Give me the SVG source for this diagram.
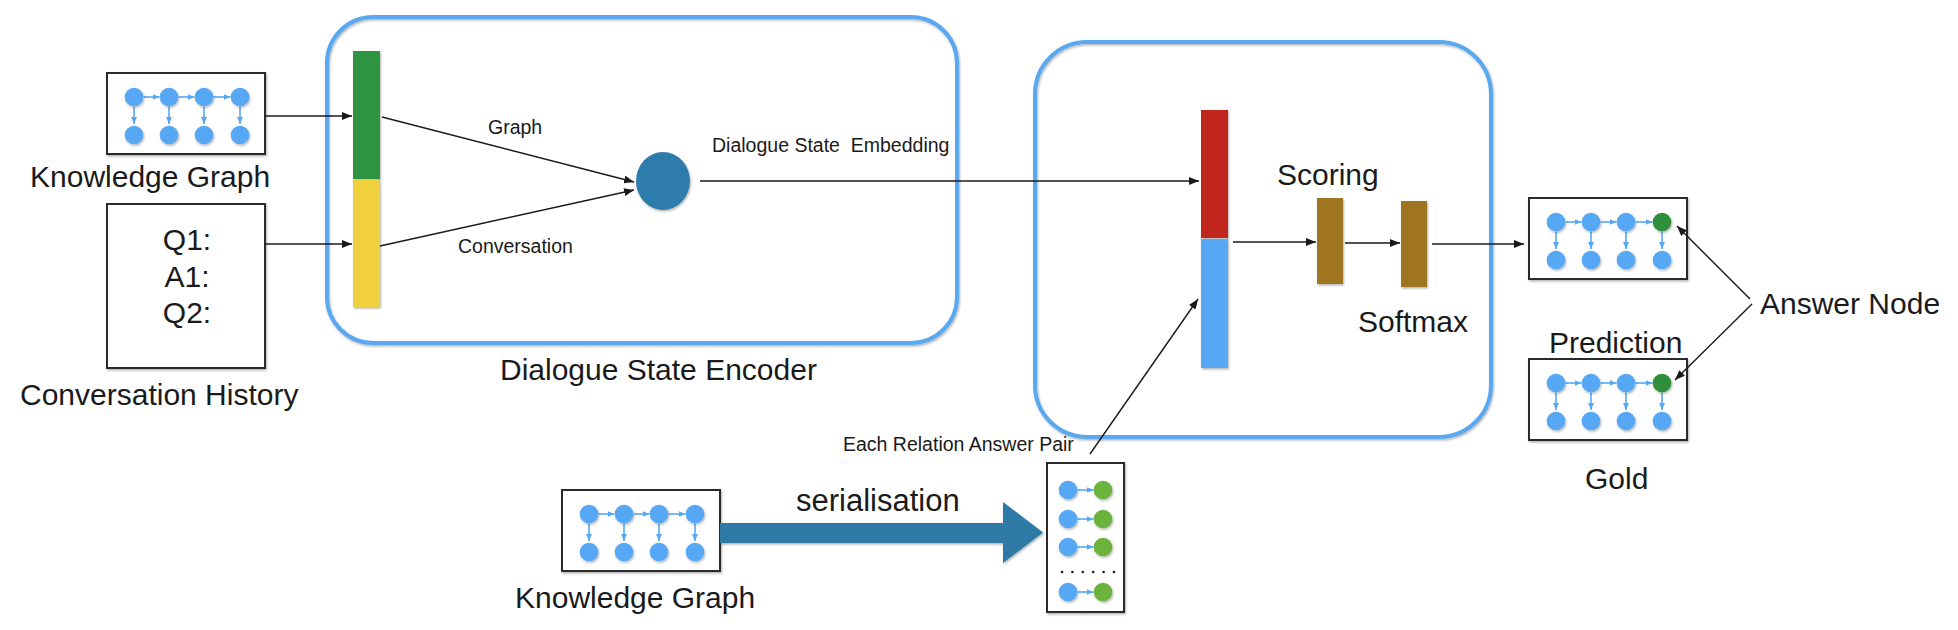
<svg xmlns="http://www.w3.org/2000/svg" xmlns:xlink="http://www.w3.org/1999/xlink" width="1958" height="630" viewBox="0 0 1958 630">
<style>
text{font-family:"Liberation Sans",Arial,sans-serif;fill:#1a1a1a}
.big{font-size:30px}
.small{font-size:19.5px}
.box{fill:#fff;stroke:#2a2a2a;stroke-width:2}
.panel{fill:none;stroke:#5aa8ef;stroke-width:4}
.conn{stroke:#1a1a1a;stroke-width:1.4;fill:none;marker-end:url(#ah)}
.nd{fill:#56a8f5}
.ndg{fill:#2e8f3e}
.ndl{fill:#6cb33e}
.ne{stroke:#56a8f5;stroke-width:1.6;fill:none;marker-end:url(#bh)}
</style>
<defs>
<marker id="ah" markerUnits="userSpaceOnUse" markerWidth="10" markerHeight="8" refX="10" refY="4" orient="auto">
<path d="M0,0 L10,4 L0,8 z" fill="#1a1a1a"/>
</marker>
<marker id="bh" markerUnits="userSpaceOnUse" markerWidth="7" markerHeight="6" refX="7" refY="3" orient="auto">
<path d="M0,0 L7,3 L0,6 z" fill="#56a8f5"/>
</marker>
<filter id="sh" x="-20%" y="-20%" width="140%" height="140%">
<feDropShadow dx="1" dy="1.5" stdDeviation="1" flood-color="#000" flood-opacity="0.3"/>
</filter>
<g id="kgbase">
<rect class="box" x="0" y="0" width="158" height="81" filter="url(#sh)"/>
<path class="ne" d="M36.5,24 H52.5"/>
<path class="ne" d="M71.5,24 H87.5"/>
<path class="ne" d="M106.5,24 H123.5"/>
<path class="ne" d="M27,33.5 V51"/>
<path class="ne" d="M62,33.5 V51"/>
<path class="ne" d="M97,33.5 V51"/>
<path class="ne" d="M133,33.5 V51"/>
<g filter="url(#sh)">
<circle class="nd" cx="27" cy="24" r="9.3"/>
<circle class="nd" cx="62" cy="24" r="9.3"/>
<circle class="nd" cx="97" cy="24" r="9.3"/>
<circle class="nd" cx="27" cy="62" r="9.3"/>
<circle class="nd" cx="62" cy="62" r="9.3"/>
<circle class="nd" cx="97" cy="62" r="9.3"/>
<circle class="nd" cx="133" cy="62" r="9.3"/>
</g>
</g>
</defs>

<g id="kg-input">
<use xlink:href="#kgbase" href="#kgbase" transform="translate(107,73)"/>
<circle class="nd" cx="240" cy="97" r="9.3" filter="url(#sh)"/>
<text class="big" x="30" y="187">Knowledge Graph</text>
</g>

<g id="conversation-history">
<rect class="box" x="107" y="204" width="158" height="164" filter="url(#sh)"/>
<text class="big" x="187" y="250" text-anchor="middle">Q1:</text>
<text class="big" x="187" y="287" text-anchor="middle">A1:</text>
<text class="big" x="187" y="323" text-anchor="middle">Q2:</text>
<text class="big" x="20" y="405">Conversation History</text>
</g>

<g id="dialogue-state-encoder">
<rect class="panel" x="327" y="17" width="630" height="326" rx="46" ry="46" filter="url(#sh)"/>
<rect x="353" y="51" width="27" height="128" fill="#2f9443" filter="url(#sh)"/>
<rect x="353" y="180" width="27" height="127" fill="#f0d03e" filter="url(#sh)"/>
<text class="big" x="500" y="380">Dialogue State Encoder</text>
</g>

<g id="state-embedding">
<ellipse cx="663" cy="181" rx="27" ry="29" fill="#2f7bab" filter="url(#sh)"/>
</g>

<g id="scorer">
<rect class="panel" x="1035" y="42" width="456" height="395" rx="52" ry="52" filter="url(#sh)"/>
<rect x="1201" y="110" width="27" height="128" fill="#c0281a" filter="url(#sh)"/>
<rect x="1201" y="239" width="27" height="129" fill="#57a8f5" filter="url(#sh)"/>
<rect x="1317" y="198" width="26" height="86" fill="#a07424" filter="url(#sh)"/>
<rect x="1401" y="201" width="26" height="86" fill="#a07424" filter="url(#sh)"/>
<text class="big" x="1277" y="185">Scoring</text>
<text class="big" x="1358" y="332">Softmax</text>
</g>

<g id="prediction">
<use xlink:href="#kgbase" href="#kgbase" transform="translate(1529,198)"/>
<circle class="ndg" cx="1662" cy="222" r="9.3" filter="url(#sh)"/>
<text class="big" x="1549" y="353">Prediction</text>
</g>

<g id="gold">
<use xlink:href="#kgbase" href="#kgbase" transform="translate(1529,359)"/>
<circle class="ndg" cx="1662" cy="383" r="9.3" filter="url(#sh)"/>
<text class="big" x="1585" y="489">Gold</text>
</g>

<g id="answer-node">
<text class="big" x="1760" y="314">Answer Node</text>
</g>

<g id="kg-source">
<use xlink:href="#kgbase" href="#kgbase" transform="translate(562,490)"/>
<circle class="nd" cx="695" cy="514" r="9.3" filter="url(#sh)"/>
<text class="big" x="515" y="608">Knowledge Graph</text>
</g>

<g id="serialisation">
<polygon points="720,523 1003,523 1003,502 1043,532.5 1003,563 1003,543 720,543" fill="#2e79a6" filter="url(#sh)"/>
<text x="796" y="511" style="font-size:31px">serialisation</text>
</g>

<g id="relation-pairs">
<rect class="box" x="1047" y="463" width="77" height="149" filter="url(#sh)"/>
<path class="ne" d="M1077.5,490 H1093.5"/>
<path class="ne" d="M1077.5,519 H1093.5"/>
<path class="ne" d="M1077.5,547 H1093.5"/>
<path class="ne" d="M1077.5,592 H1093.5"/>
<g filter="url(#sh)">
<circle class="nd" cx="1068" cy="490" r="9.3"/>
<circle class="ndl" cx="1103" cy="490" r="9.3"/>
<circle class="nd" cx="1068" cy="519" r="9.3"/>
<circle class="ndl" cx="1103" cy="519" r="9.3"/>
<circle class="nd" cx="1068" cy="547" r="9.3"/>
<circle class="ndl" cx="1103" cy="547" r="9.3"/>
<circle class="nd" cx="1068" cy="592" r="9.3"/>
<circle class="ndl" cx="1103" cy="592" r="9.3"/>
</g>
<g fill="#1a1a1a">
<circle cx="1062" cy="572" r="1.3"/>
<circle cx="1072.4" cy="572" r="1.3"/>
<circle cx="1082.8" cy="572" r="1.3"/>
<circle cx="1093.2" cy="572" r="1.3"/>
<circle cx="1103.6" cy="572" r="1.3"/>
<circle cx="1114" cy="572" r="1.3"/>
</g>
</g>

<g id="connectors">
<line class="conn" x1="265" y1="116" x2="352" y2="116"/>
<line class="conn" x1="265" y1="244" x2="352" y2="244"/>
<line class="conn" x1="382" y1="117" x2="634" y2="182"/>
<line class="conn" x1="380" y1="246" x2="634" y2="190"/>
<line class="conn" x1="700" y1="181" x2="1199" y2="181"/>
<line class="conn" x1="1233" y1="242" x2="1316" y2="242"/>
<line class="conn" x1="1345" y1="243" x2="1400" y2="243"/>
<line class="conn" x1="1432" y1="244" x2="1524" y2="244"/>
<line class="conn" x1="1090" y1="454" x2="1198" y2="299"/>
<line class="conn" x1="1750" y1="299" x2="1677" y2="226"/>
<line class="conn" x1="1752" y1="304" x2="1675" y2="380"/>
<text class="small" x="488" y="134">Graph</text>
<text class="small" x="458" y="253">Conversation</text>
<text class="small" x="712" y="152" xml:space="preserve">Dialogue State  Embedding</text>
<text class="small" x="843" y="451">Each Relation Answer Pair</text>
</g>
</svg>
